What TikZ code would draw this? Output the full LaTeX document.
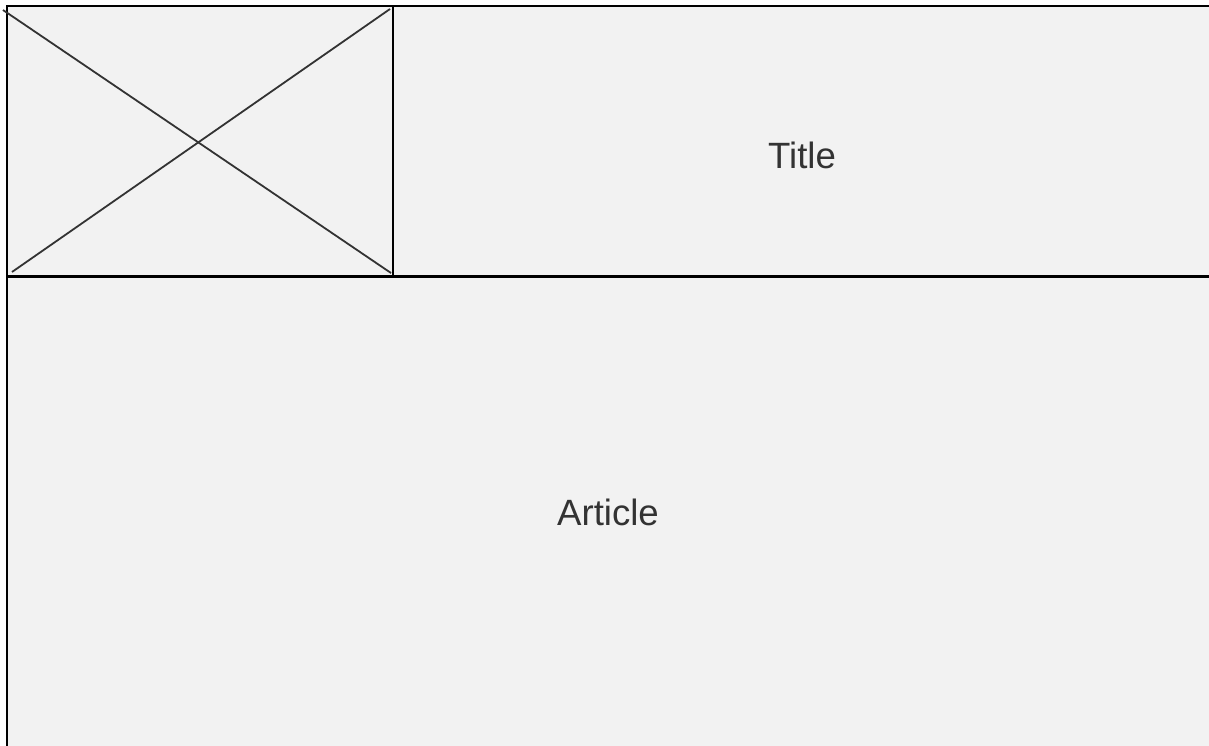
\documentclass[tikz,border=0pt]{standalone}
\usepackage{fontspec}
\setmainfont{Liberation Sans}
\usepackage{tikz}
\usetikzlibrary{positioning}

\definecolor{cellgray}{HTML}{F2F2F2}
\definecolor{inkgray}{HTML}{333333}

\begin{document}
\begin{tikzpicture}[
  x=0.5pt, y=-0.5pt,
  font=\fontsize{18.3}{22}\selectfont,
  cell/.style={rectangle, draw=black, line width=1pt, fill=cellgray, inner sep=0pt, anchor=north west},
  cross/.style={draw=inkgray, line width=0.9pt},
  lbl/.style={text=inkgray, inner sep=0pt},
]
\useasboundingbox (0,0) rectangle (1209,745);
\clip (0,0) rectangle (1209,745);
% cells of the layout
\node[cell, minimum width=630pt, minimum height=300pt] (article) at (6,275.5) {};
\node[cell, minimum width=193.2pt, minimum height=135.2pt] (pic) at (6,5) {};
\node[cell, minimum width=430pt, minimum height=135.2pt] (title) at (392.3,5) {};
% image placeholder
\coordinate (picnw) at (3,10);
\coordinate (picse) at (391,273);
\coordinate (picsw) at (12,272);
\coordinate (picne) at (390,9);
\draw[cross] (picnw) -- (picse);
\draw[cross] (picsw) -- (picne);
% texts
\node[lbl] (titletext) at (802,155.5) {Title};
\node[lbl] (articletext) at (608,512) {Article};
\end{tikzpicture}
\end{document}
